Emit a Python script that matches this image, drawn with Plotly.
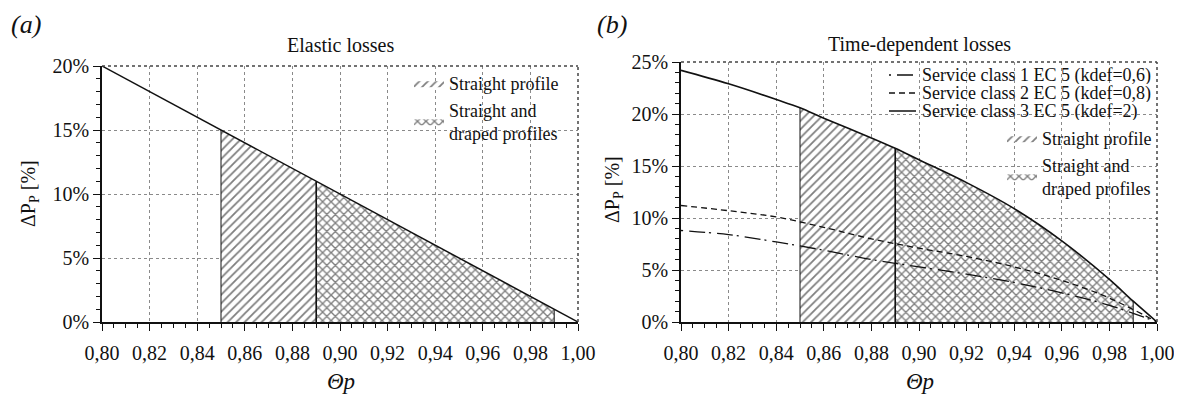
import numpy as np
import plotly.graph_objects as go

# ---------------- data ----------------
x_ticks = [0.80, 0.82, 0.84, 0.86, 0.88, 0.90, 0.92, 0.94, 0.96, 0.98, 1.00]
x_ticklabels = ["0,80", "0,82", "0,84", "0,86", "0,88", "0,90", "0,92", "0,94", "0,96", "0,98", "1,00"]
ya_ticks = [0, 5, 10, 15, 20]
ya_ticklabels = ["0%", "5%", "10%", "15%", "20%"]
yb_ticks = [0, 5, 10, 15, 20, 25]
yb_ticklabels = ["0%", "5%", "10%", "15%", "20%", "25%"]

# panel (a): elastic losses
theta_a = [0.80, 0.85, 0.89, 0.99, 1.00]
elastic = [20.0, 15.0, 11.0, 1.0, 0.0]

# panel (b): time-dependent losses
theta_b = [0.80, 0.82, 0.84, 0.85, 0.86, 0.88, 0.89, 0.90, 0.92, 0.94, 0.96, 0.98, 0.99, 1.00]
class3 = [24.2, 22.9, 21.4, 20.6, 19.6, 17.7, 16.7, 15.6, 13.4, 10.9, 7.8, 4.1, 2.0, 0.0]
theta_c = [0.80, 0.82, 0.84, 0.86, 0.88, 0.90, 0.92, 0.94, 0.96, 0.98, 1.00]
class2 = [11.2, 10.7, 10.1, 9.1, 8.0, 7.1, 6.3, 5.3, 4.0, 2.3, 0.0]
class1 = [8.8, 8.4, 7.7, 6.9, 6.0, 5.3, 4.6, 3.8, 2.8, 1.6, 0.0]

straight_range = [0.85, 0.89]
draped_range = [0.89, 0.99]

class_names = ["Service class 1 EC 5 (kdef=0,6)",
               "Service class 2 EC 5 (kdef=0,8)",
               "Service class 3 EC 5 (kdef=2)"]
class_dashes = ["2px,6px,16px,4px", "6px,4px", "solid"]

FONT = "Liberation Serif"
INK = "#111111"

# the page body has an 8px margin: size the figure so it fits the window
PAD = 8
W, H = 1182 - PAD, 399 - PAD


def fx(px):  # reference pixel -> paper fraction
    return (px - PAD) / W


def fy(py):
    return (H - (py - PAD)) / H


def region(xs, ys, lo, hi):
    xs = np.array(xs); ys = np.array(ys)
    m = (xs >= lo - 1e-9) & (xs <= hi + 1e-9)
    px = list(xs[m]); py = list(ys[m])
    return [px[0]] + px + [px[-1], px[0]], [0] + py + [0, 0]


def edge(xs, ys, at):
    xs = np.array(xs); ys = np.array(ys)
    i = int(np.argmin(np.abs(xs - at)))
    return [xs[i], xs[i]], [0, ys[i]]


fig = go.Figure()

hatch = dict(shape="/", size=6, solidity=0.3, fgcolor="black", bgcolor="white")
cross = dict(shape="x", size=6, solidity=0.4, fgcolor="black", bgcolor="white")

panels = [("x", "y", theta_a, elastic, "legend"), ("x2", "y2", theta_b, class3, "legend2")]
for xa, ya, xs, ys, lg in panels:
    rx, ry = region(xs, ys, *straight_range)
    fig.add_trace(go.Scatter(x=rx, y=ry, fill="toself", fillpattern=hatch, mode="lines",
                             line=dict(color=INK, width=0), name="Straight profile",
                             xaxis=xa, yaxis=ya, legend=lg))
    rx, ry = region(xs, ys, *draped_range)
    fig.add_trace(go.Scatter(x=rx, y=ry, fill="toself", fillpattern=cross, mode="lines",
                             line=dict(color=INK, width=0), name="Straight and<br>draped profiles",
                             xaxis=xa, yaxis=ya, legend=lg))
    for at, wd in ((straight_range[0], 1.0), (draped_range[0], 1.6), (draped_range[1], 1.0)):
        ex, ey = edge(xs, ys, at)
        fig.add_trace(go.Scatter(x=ex, y=ey, mode="lines", line=dict(color=INK, width=wd),
                                 showlegend=False, hoverinfo="skip", xaxis=xa, yaxis=ya))

fig.add_trace(go.Scatter(x=theta_a, y=elastic, mode="lines", line=dict(color=INK, width=1.5),
                         showlegend=False, xaxis="x", yaxis="y"))
for xs, ys, nm, ds, wd in ((theta_c, class1, class_names[0], class_dashes[0], 1.3),
                           (theta_c, class2, class_names[1], class_dashes[1], 1.3),
                           (theta_b, class3, class_names[2], class_dashes[2], 1.6)):
    fig.add_trace(go.Scatter(x=xs, y=ys, mode="lines", name=nm, showlegend=False,
                             line=dict(color=INK, width=wd, dash=ds, shape="spline", smoothing=1.0),
                             xaxis="x2", yaxis="y2"))

xcommon = dict(range=[0.80, 1.00], tickvals=x_ticks, ticktext=x_ticklabels, showline=True,
               linecolor=INK, linewidth=1.5, ticks="outside", ticklen=7, tickwidth=1.2, tickcolor=INK,
               minor=dict(dtick=0.005, ticks="outside", ticklen=4, tickcolor=INK, tickwidth=1, showgrid=False),
               showgrid=True, gridcolor="#8a8a8a", griddash="dot", gridwidth=1, zeroline=False,
               tickfont=dict(family=FONT, size=20, color=INK), ticklabelstandoff=5, automargin=False)
ycommon = dict(showline=True, linecolor=INK, linewidth=1.5, ticks="outside", ticklen=7, tickwidth=1.2,
               tickcolor=INK, minor=dict(dtick=1, ticks="outside", ticklen=4, tickcolor=INK, tickwidth=1,
                                         showgrid=False),
               showgrid=True, gridcolor="#8a8a8a", griddash="dot", gridwidth=1, zeroline=False,
               tickfont=dict(family=FONT, size=20, color=INK), automargin=False)

legcommon = dict(xanchor="left", yanchor="top", bgcolor="rgba(0,0,0,0)", itemwidth=30, tracegroupgap=0,
                 font=dict(family=FONT, size=18, color=INK))
fig.update_layout(
    width=W, height=H, margin=dict(l=0, r=0, t=0, b=0, autoexpand=False),
    paper_bgcolor="white", plot_bgcolor="white",
    font=dict(family=FONT, color=INK, size=18),
    xaxis=dict(domain=[fx(102), fx(578)], anchor="y", **xcommon),
    yaxis=dict(domain=[fy(322), fy(66)], anchor="x", range=[0, 20], tickvals=ya_ticks,
               ticktext=ya_ticklabels, **ycommon),
    xaxis2=dict(domain=[fx(681), fx(1157)], anchor="y2", **xcommon),
    yaxis2=dict(domain=[fy(322), fy(62)], anchor="x2", range=[0, 25], tickvals=yb_ticks,
                ticktext=yb_ticklabels, **ycommon),
    legend=dict(x=fx(409), y=fy(65), **legcommon),
    legend2=dict(x=fx(1002), y=fy(120), **legcommon),
    showlegend=True,
)

# white backgrounds behind the keys (above grid, below data)
for x0, x1, y0, y1 in ((405, 566, 72, 140), (884, 1153, 66, 121), (1004, 1153, 126, 192)):
    fig.add_shape(type="rect", xref="paper", yref="paper", x0=fx(x0), x1=fx(x1),
                  y0=fy(y1), y1=fy(y0), fillcolor="white", line=dict(width=0), layer="below")

# dotted top and right frame
for xr, yr in (("x", "y"), ("x2", "y2")):
    fig.add_shape(type="line", xref=f"{xr} domain", yref=f"{yr} domain", x0=0, x1=1, y0=1, y1=1,
                  line=dict(color="#444", width=1.5, dash="dot"))
    fig.add_shape(type="line", xref=f"{xr} domain", yref=f"{yr} domain", x0=1, x1=1, y0=0, y1=1,
                  line=dict(color="#444", width=1.5, dash="dot"))

# key for the three service-class curves (panel b)
key_y = [75, 93, 111]
for i, (nm, ds) in enumerate(zip(class_names, class_dashes)):
    fig.add_shape(type="line", xref="paper", yref="paper", x0=fx(889), x1=fx(916),
                  y0=fy(key_y[i]), y1=fy(key_y[i]), line=dict(color=INK, width=1.5, dash=ds))
    fig.add_annotation(text=nm, x=fx(920), y=fy(key_y[i]), xref="paper", yref="paper", xanchor="left",
                       yanchor="middle", showarrow=False, height=18, valign="middle",
                       font=dict(family=FONT, size=18, color=INK))

ann = [
    dict(text="<i>(a)</i>", x=9, y=25, size=26, xanchor="left"),
    dict(text="<i>(b)</i>", x=595, y=25, size=26, xanchor="left"),
    dict(text="Elastic losses", x=340, y=45, size=20, xanchor="center"),
    dict(text="Time-dependent losses", x=919, y=44, size=20, xanchor="center"),
    dict(text="<i>Θp</i>", x=341, y=381, size=23, xanchor="center"),
    dict(text="<i>Θp</i>", x=920, y=381, size=23, xanchor="center"),
]
for a in ann:
    fig.add_annotation(text=a["text"], x=fx(a["x"]), y=fy(a["y"]), xref="paper", yref="paper",
                       xanchor=a["xanchor"], yanchor="middle", showarrow=False,
                       font=dict(family=FONT, size=a["size"], color=INK))
for xx, yy in ((29, 194), (613, 190)):
    fig.add_annotation(text="ΔP<sub>P</sub> [%]", x=fx(xx), y=fy(yy), xref="paper", yref="paper",
                       textangle=-90, showarrow=False, xanchor="center", yanchor="middle",
                       font=dict(family=FONT, size=20, color=INK))

fig.write_html("out.html")
